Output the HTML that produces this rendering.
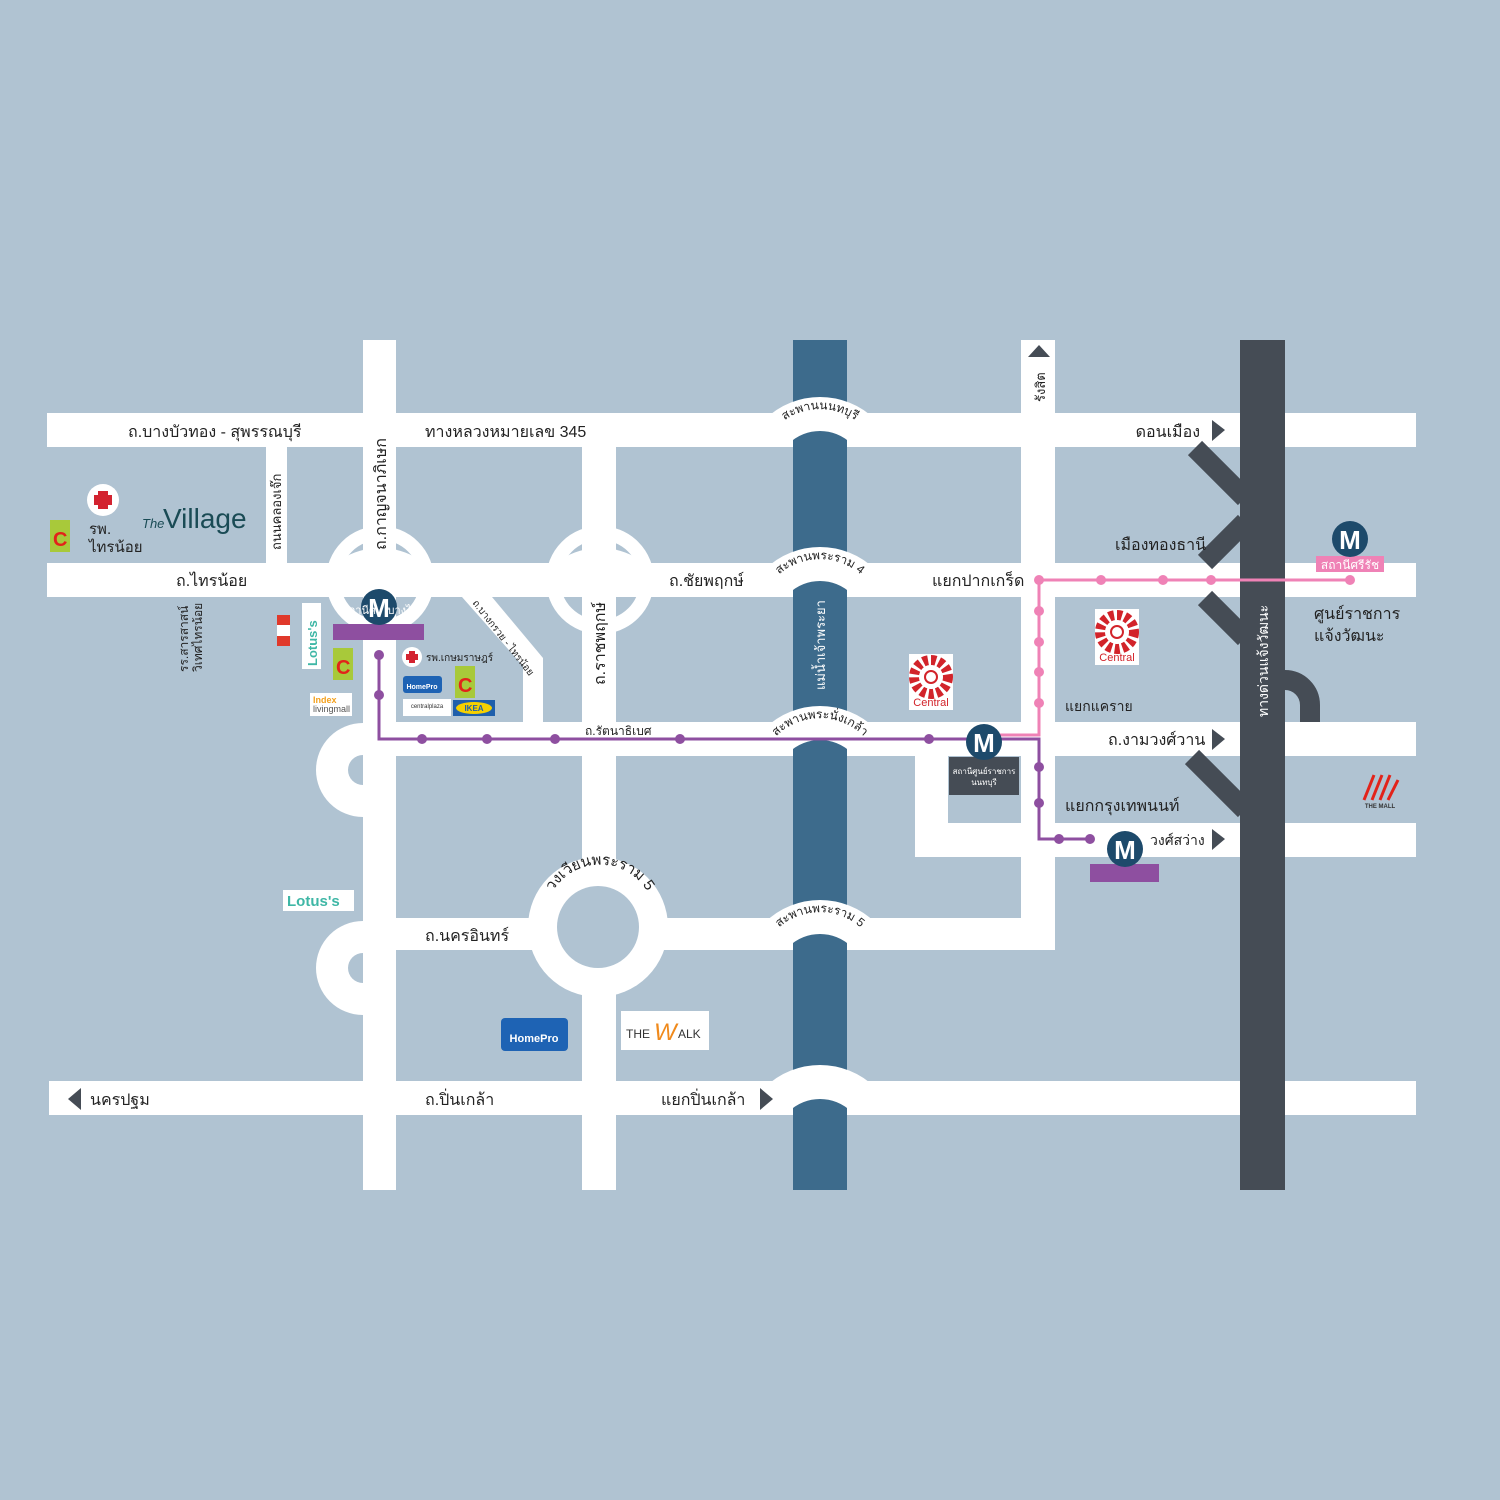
<!DOCTYPE html>
<html><head><meta charset="utf-8">
<style>
html,body{margin:0;padding:0;background:#b0c3d2;}
svg{display:block;}
text{font-family:"Liberation Sans","DejaVu Sans",sans-serif;}
</style></head>
<body>
<svg width="1500" height="1500" viewBox="0 0 1500 1500" xmlns="http://www.w3.org/2000/svg">
<rect width="1500" height="1500" fill="#b0c3d2"/>
<defs>
<clipPath id="c1"><rect x="740" y="0" width="160" height="447"/></clipPath>
<clipPath id="c2"><rect x="740" y="0" width="160" height="597"/></clipPath>
<clipPath id="c3"><rect x="740" y="0" width="160" height="756"/></clipPath>
<clipPath id="c4"><rect x="740" y="0" width="160" height="950"/></clipPath>
<clipPath id="c5"><rect x="740" y="0" width="160" height="1115"/></clipPath>
<clipPath id="lh"><rect x="300" y="0" width="63" height="1500"/></clipPath>
<clipPath id="top"><rect x="0" y="0" width="1500" height="580"/></clipPath>
<path id="a1" d="M772,432 A62,62 0 0 1 868,432"/>
<path id="a2" d="M772,582 A62,62 0 0 1 868,582"/>
<path id="a3" d="M772,741 A62,62 0 0 1 868,741"/>
<path id="a4" d="M772,935 A62,62 0 0 1 868,935"/>
<path id="ra" d="M547,905 A55,55 0 0 1 653,905"/>
</defs>

<!-- rings at intersections -->
<g fill="none" stroke="#fff" stroke-width="14">
<circle cx="380" cy="580" r="47"/>
<circle cx="600" cy="580" r="47"/>
</g>
<g fill="#fff" clip-path="url(#top)">
<ellipse cx="380" cy="585" rx="53" ry="37"/>
<ellipse cx="600" cy="585" rx="53" ry="37"/>
</g>
<!-- left loops -->
<g clip-path="url(#lh)">
<circle cx="363" cy="770" r="47" fill="#fff"/><circle cx="363" cy="770" r="15" fill="#b0c3d2"/>
<circle cx="363" cy="968" r="47" fill="#fff"/><circle cx="363" cy="968" r="15" fill="#b0c3d2"/>
</g>

<!-- roads -->
<g fill="#fff">
<rect x="47" y="413" width="1369" height="34"/>
<rect x="47" y="563" width="1369" height="34"/>
<rect x="363" y="722" width="1053" height="34"/>
<rect x="915" y="823" width="501" height="34"/>
<rect x="915" y="740" width="33" height="117"/>
<rect x="363" y="918" width="692" height="32"/>
<rect x="49" y="1081" width="1367" height="34"/>
<rect x="363" y="340" width="33" height="850"/>
<rect x="266" y="447" width="21" height="116"/>
<rect x="582" y="447" width="34" height="743"/>
<rect x="1021" y="340" width="34" height="610"/>
<polygon points="462,597 492,597 543,658 543,722 523,722 523,666"/>
</g>
<!-- roundabout -->
<circle cx="598" cy="927" r="70" fill="#fff"/>
<circle cx="598" cy="927" r="41" fill="#b0c3d2"/>

<!-- river -->
<rect x="793" y="340" width="54" height="850" fill="#3d6b8c"/>
<!-- bridges -->
<g fill="none" stroke="#fff" stroke-width="34">
<circle cx="820" cy="476" r="62" clip-path="url(#c1)"/>
<circle cx="820" cy="626" r="62" clip-path="url(#c2)"/>
<circle cx="820" cy="785" r="62" clip-path="url(#c3)"/>
<circle cx="820" cy="979" r="62" clip-path="url(#c4)"/>
<circle cx="820" cy="1144" r="62" clip-path="url(#c5)"/>
</g>

<!-- expressway -->
<g stroke="#454c55" stroke-width="20" fill="none">
<line x1="1195" y1="448" x2="1245" y2="498"/>
<line x1="1205" y1="562" x2="1245" y2="522"/>
<line x1="1205" y1="598" x2="1245" y2="638"/>
<line x1="1192" y1="757" x2="1245" y2="810"/>
<path d="M1285,680 A25,25 0 0 1 1310,705 L1310,722"/>
</g>
<rect x="1240" y="340" width="45" height="850" fill="#454c55"/>

<!-- arrows -->
<g fill="#454c55">
<polygon points="1212,420 1225,430 1212,441"/>
<polygon points="1212,729 1225,739 1212,750"/>
<polygon points="1212,829 1225,839 1212,850"/>
<polygon points="760,1088 773,1099 760,1110"/>
<polygon points="81,1088 68,1099 81,1110"/>
<polygon points="1028,357 1039,345 1050,357"/>
</g>

<!-- pink line -->
<g stroke="#ef82b6" stroke-width="3" fill="none">
<polyline points="1350,580 1039,580 1039,735 1000,735"/>
</g>
<g fill="#ef82b6">
<circle cx="1039" cy="580" r="5"/><circle cx="1101" cy="580" r="5"/><circle cx="1163" cy="580" r="5"/><circle cx="1211" cy="580" r="5"/><circle cx="1350" cy="580" r="5"/>
<circle cx="1039" cy="611" r="5"/><circle cx="1039" cy="642" r="5"/><circle cx="1039" cy="672" r="5"/><circle cx="1039" cy="703" r="5"/>
</g>
<!-- purple line -->
<g stroke="#8e4fa0" stroke-width="3" fill="none">
<polyline points="379,655 379,739 1039,739 1039,839 1090,839"/>
</g>
<g fill="#8e4fa0">
<circle cx="379" cy="655" r="5"/><circle cx="379" cy="695" r="5"/>
<circle cx="422" cy="739" r="5"/><circle cx="487" cy="739" r="5"/><circle cx="555" cy="739" r="5"/><circle cx="680" cy="739" r="5"/><circle cx="929" cy="739" r="5"/>
<circle cx="1039" cy="767" r="5"/><circle cx="1039" cy="803" r="5"/><circle cx="1059" cy="839" r="5"/><circle cx="1090" cy="839" r="5"/>
<rect x="333" y="624" width="91" height="16"/>
<rect x="1090" y="864" width="69" height="18"/>
</g>
<rect x="1316" y="556" width="68" height="16" fill="#ef82b6"/>
<rect x="949" y="757" width="70" height="38" fill="#454c55"/>

<!-- metro icons -->
<g font-weight="bold" font-size="26" fill="#fff" text-anchor="middle">
<circle cx="379" cy="607" r="18" fill="#1d4a6b"/><text x="379" y="617">M</text>
<circle cx="984" cy="742" r="18" fill="#1d4a6b"/><text x="984" y="752">M</text>
<circle cx="1350" cy="539" r="18" fill="#1d4a6b"/><text x="1350" y="549">M</text>
<circle cx="1125" cy="849" r="18" fill="#1d4a6b"/><text x="1125" y="859">M</text>
</g>

<!-- labels -->
<g font-size="16" fill="#222">
<text x="128" y="437">ถ.บางบัวทอง - สุพรรณบุรี</text>
<text x="425" y="437">ทางหลวงหมายเลข 345</text>
<text x="1200" y="437" text-anchor="end">ดอนเมือง</text>
<text x="176" y="586">ถ.ไทรน้อย</text>
<text x="669" y="586">ถ.ชัยพฤกษ์</text>
<text x="932" y="586">แยกปากเกร็ด</text>
<text x="1115" y="550">เมืองทองธานี</text>
<text x="1314" y="619">ศูนย์ราชการ</text>
<text x="1314" y="641">แจ้งวัฒนะ</text>
<text x="1065" y="711" font-size="14">แยกแคราย</text>
<text x="1108" y="745">ถ.งามวงศ์วาน</text>
<text x="1065" y="811">แยกกรุงเทพนนท์</text>
<text x="1150" y="845" font-size="14">วงศ์สว่าง</text>
<text x="425" y="941">ถ.นครอินทร์</text>
<text x="90" y="1105">นครปฐม</text>
<text x="425" y="1105">ถ.ปิ่นเกล้า</text>
<text x="661" y="1105">แยกปิ่นเกล้า</text>
<text x="89" y="534" font-size="15">รพ.</text>
<text x="89" y="552" font-size="15">ไทรน้อย</text>
<text x="585" y="735" font-size="12">ถ.รัตนาธิเบศ</text>
<text x="426" y="661" font-size="10">รพ.เกษมราษฎร์</text>
</g>
<g font-size="12" fill="#fff" text-anchor="middle">
<text x="1350" y="569">สถานีศรีรัช</text>
<text x="376" y="614" font-size="11" text-anchor="end">สถานีศ</text>
<text x="418" y="614" font-size="11" text-anchor="end">บางไผ่</text>
<text x="984" y="774" font-size="8">สถานีศูนย์ราชการ</text>
<text x="984" y="785" font-size="8">นนทบุรี</text>
</g>
<!-- vertical labels -->
<g font-size="16" fill="#222">
<text transform="translate(386,550) rotate(-90)">ถ.กาญจนาภิเษก</text>
<text transform="translate(281,550) rotate(-90)" font-size="13">ถนนคลองเจ๊ก</text>
<text transform="translate(605,685) rotate(-90)">ถ.ราชพฤกษ์</text>
<text transform="translate(1045,402) rotate(-90)" font-size="13">รังสิต</text>
<text transform="translate(188,672) rotate(-90)" font-size="12">รร.สารสาสน์</text>
<text transform="translate(202,672) rotate(-90)" font-size="12">วิเทศไทรน้อย</text>
<text transform="translate(472,603) rotate(52)" font-size="10">ถ.บางกรวย - ไทรน้อย</text>
<text transform="translate(825,690) rotate(-90)" fill="#fff" font-size="13">แม่น้ำเจ้าพระยา</text>
<text transform="translate(1268,717) rotate(-90)" fill="#fff" font-size="14">ทางด่วนแจ้งวัฒนะ</text>
</g>
<!-- curved labels -->
<g font-size="12" fill="#222">
<text><textPath href="#a1" startOffset="50%" text-anchor="middle">สะพานนนทบุรี</textPath></text>
<text><textPath href="#a2" startOffset="50%" text-anchor="middle">สะพานพระราม 4</textPath></text>
<text><textPath href="#a3" startOffset="50%" text-anchor="middle">สะพานพระนั่งเกล้า</textPath></text>
<text><textPath href="#a4" startOffset="50%" text-anchor="middle">สะพานพระราม 5</textPath></text>
<text font-size="15"><textPath href="#ra" startOffset="50%" text-anchor="middle">วงเวียนพระราม 5</textPath></text>
</g>

<!-- logos -->
<circle cx="103" cy="500" r="16" fill="#fff"/>
<rect x="98" y="491" width="10" height="18" fill="#d32330"/><rect x="94" y="495" width="18" height="10" fill="#d32330"/>
<circle cx="412" cy="657" r="10" fill="#fff"/>
<rect x="409" y="651" width="6" height="12" fill="#d32330"/><rect x="406" y="654" width="12" height="6" fill="#d32330"/>
<text x="142" y="528" font-family="Liberation Serif" font-size="13" font-style="italic" fill="#1a4b55">The</text>
<text x="163" y="528" font-family="Liberation Serif" font-size="28" fill="#1a4b55">Village</text>
<g>
<rect x="50" y="520" width="20" height="32" fill="#a8c93a"/><text x="53" y="546" font-size="20" font-weight="bold" fill="#e2231a">C</text>
<rect x="333" y="648" width="20" height="32" fill="#a8c93a"/><text x="336" y="674" font-size="20" font-weight="bold" fill="#e2231a">C</text>
<rect x="455" y="666" width="20" height="32" fill="#a8c93a"/><text x="458" y="692" font-size="20" font-weight="bold" fill="#e2231a">C</text>
</g>
<rect x="302" y="603" width="19" height="66" fill="#fff"/>
<text transform="translate(317,666) rotate(-90)" font-size="13" font-weight="bold" fill="#3fb7a6">Lotus's</text>
<rect x="277" y="615" width="13" height="31" fill="#fff"/><rect x="277" y="615" width="13" height="10" fill="#e0392b"/><rect x="277" y="636" width="13" height="10" fill="#e0392b"/>
<rect x="310" y="693" width="42" height="23" fill="#fff"/>
<text x="313" y="703" font-size="9" font-weight="bold" fill="#f4a11d">Index</text>
<text x="313" y="712" font-size="9" fill="#555">livingmall</text>
<rect x="403" y="676" width="39" height="17" rx="3" fill="#1e63b4"/><text x="422" y="689" font-size="7" font-weight="bold" fill="#fff" text-anchor="middle">HomePro</text>
<rect x="403" y="699" width="48" height="17" fill="#fff"/><text x="427" y="708" font-size="6" fill="#333" text-anchor="middle">centralplaza</text>
<rect x="453" y="700" width="42" height="16" fill="#1f5fab"/><ellipse cx="474" cy="708" rx="18" ry="6" fill="#f5d000"/><text x="474" y="711" font-size="8" font-weight="bold" fill="#1f5fab" text-anchor="middle">IKEA</text>
<rect x="283" y="890" width="71" height="21" fill="#fff"/><text x="287" y="906" font-size="15" font-weight="bold" fill="#3fb7a6">Lotus's</text>
<rect x="501" y="1018" width="67" height="33" rx="4" fill="#1e63b4"/><text x="534" y="1042" font-size="11" font-weight="bold" fill="#fff" text-anchor="middle">HomePro</text>
<rect x="621" y="1011" width="88" height="39" fill="#fff"/><text x="626" y="1038" font-family="Liberation Serif" font-size="12" fill="#333">THE</text><text x="654" y="1040" font-family="Liberation Serif" font-size="24" font-style="italic" fill="#f08a1c">W</text><text x="678" y="1038" font-family="Liberation Serif" font-size="12" fill="#333">ALK</text>
<g>
<rect x="909" y="654" width="44" height="56" fill="#fff"/>
<circle cx="931" cy="677" r="17" fill="none" stroke="#d2232a" stroke-width="10" stroke-dasharray="5 3"/><circle cx="931" cy="677" r="6" fill="#fff" stroke="#d2232a" stroke-width="2"/>
<text x="931" y="706" font-family="Liberation Serif" font-size="11" fill="#d2232a" text-anchor="middle">Central</text>
<rect x="1095" y="609" width="44" height="56" fill="#fff"/>
<circle cx="1117" cy="632" r="17" fill="none" stroke="#d2232a" stroke-width="10" stroke-dasharray="5 3"/><circle cx="1117" cy="632" r="6" fill="#fff" stroke="#d2232a" stroke-width="2"/>
<text x="1117" y="661" font-family="Liberation Serif" font-size="11" fill="#d2232a" text-anchor="middle">Central</text>
</g>
<g stroke="#e2231a" stroke-width="3">
<line x1="1364" y1="800" x2="1374" y2="775"/><line x1="1372" y1="800" x2="1382" y2="775"/><line x1="1380" y1="800" x2="1390" y2="775"/><line x1="1388" y1="800" x2="1398" y2="780"/>
</g>
<text x="1380" y="808" font-family="Liberation Serif" font-size="6" font-weight="bold" fill="#333" text-anchor="middle">THE MALL</text>
</svg>
</body></html>
